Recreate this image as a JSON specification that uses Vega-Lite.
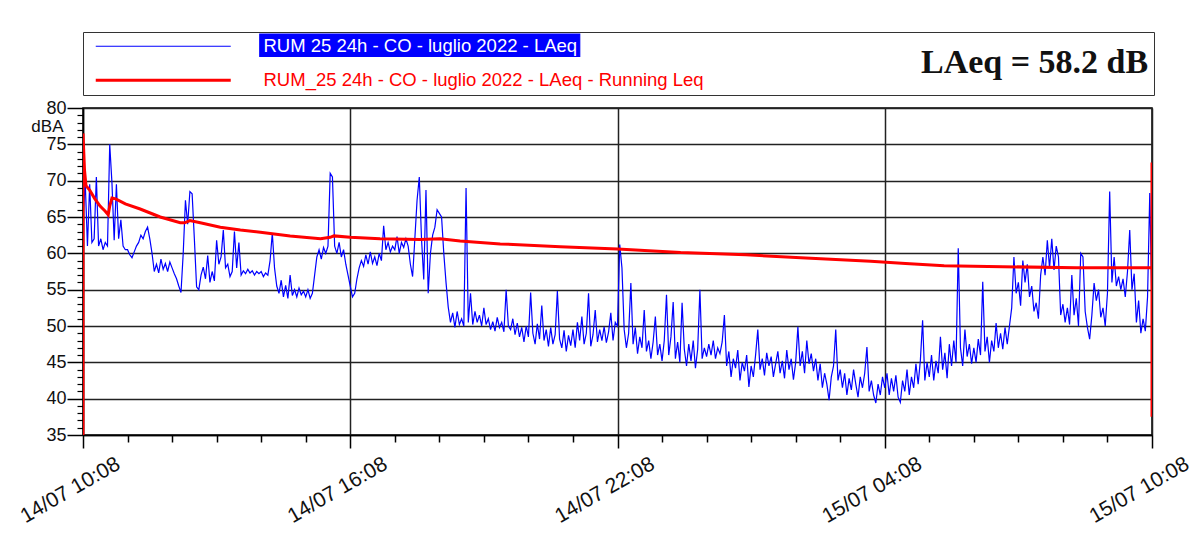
{
"$schema": "https://vega.github.io/schema/vega-lite/v6.json",
"width": 1069, "height": 327,
"autosize": {"type": "none"},
"padding": {"left": 83, "top": 108, "right": 44, "bottom": 119},
"background": "white",
"config": {"view": {"stroke": "#000", "strokeWidth": 1.5}},
"datasets": {
"laeq": [
{"t":"2022-07-14T10:08","v":65},{"t":"2022-07-14T10:11","v":69.8},{"t":"2022-07-14T10:14","v":61},{"t":"2022-07-14T10:17","v":69.5},{"t":"2022-07-14T10:20","v":61.5},{"t":"2022-07-14T10:23","v":62},{"t":"2022-07-14T10:26","v":70.5},{"t":"2022-07-14T10:29","v":61},{"t":"2022-07-14T10:32","v":62},{"t":"2022-07-14T10:35","v":60.5},{"t":"2022-07-14T10:38","v":61.5},{"t":"2022-07-14T10:41","v":61},{"t":"2022-07-14T10:44","v":75},{"t":"2022-07-14T10:47","v":69.7},{"t":"2022-07-14T10:50","v":61.8},{"t":"2022-07-14T10:53","v":69.5},{"t":"2022-07-14T10:56","v":62},{"t":"2022-07-14T10:59","v":64.6},{"t":"2022-07-14T11:02","v":61},{"t":"2022-07-14T11:05","v":60.5},
{"t":"2022-07-14T11:08","v":60.5},{"t":"2022-07-14T11:11","v":59.8},{"t":"2022-07-14T11:14","v":59.4},{"t":"2022-07-14T11:17","v":60.2},{"t":"2022-07-14T11:20","v":61},{"t":"2022-07-14T11:23","v":61.5},{"t":"2022-07-14T11:26","v":62.5},{"t":"2022-07-14T11:29","v":62},{"t":"2022-07-14T11:32","v":63},{"t":"2022-07-14T11:35","v":63.6},{"t":"2022-07-14T11:38","v":62},{"t":"2022-07-14T11:41","v":60},{"t":"2022-07-14T11:44","v":57.5},{"t":"2022-07-14T11:47","v":58.5},{"t":"2022-07-14T11:50","v":57.3},{"t":"2022-07-14T11:53","v":59.2},{"t":"2022-07-14T11:56","v":57.8},{"t":"2022-07-14T11:59","v":58.6},{"t":"2022-07-14T12:02","v":57.5},{"t":"2022-07-14T12:05","v":58.8},
{"t":"2022-07-14T12:08","v":58},{"t":"2022-07-14T12:11","v":57.2},{"t":"2022-07-14T12:14","v":56.5},{"t":"2022-07-14T12:17","v":55.5},{"t":"2022-07-14T12:20","v":54.6},{"t":"2022-07-14T12:23","v":60},{"t":"2022-07-14T12:26","v":67.3},{"t":"2022-07-14T12:29","v":64},{"t":"2022-07-14T12:32","v":68.5},{"t":"2022-07-14T12:35","v":68.2},{"t":"2022-07-14T12:38","v":62},{"t":"2022-07-14T12:41","v":55.4},{"t":"2022-07-14T12:44","v":55},{"t":"2022-07-14T12:47","v":57},{"t":"2022-07-14T12:50","v":58.1},{"t":"2022-07-14T12:53","v":56.5},{"t":"2022-07-14T12:56","v":59.7},{"t":"2022-07-14T12:59","v":56},{"t":"2022-07-14T13:02","v":57.5},{"t":"2022-07-14T13:05","v":56.2},
{"t":"2022-07-14T13:08","v":61.8},{"t":"2022-07-14T13:11","v":58.5},{"t":"2022-07-14T13:14","v":59.5},{"t":"2022-07-14T13:17","v":63.2},{"t":"2022-07-14T13:20","v":58},{"t":"2022-07-14T13:23","v":58.5},{"t":"2022-07-14T13:26","v":56.8},{"t":"2022-07-14T13:29","v":57.5},{"t":"2022-07-14T13:32","v":63},{"t":"2022-07-14T13:35","v":58},{"t":"2022-07-14T13:38","v":61.5},{"t":"2022-07-14T13:41","v":57},{"t":"2022-07-14T13:44","v":57.6},{"t":"2022-07-14T13:47","v":57.2},{"t":"2022-07-14T13:50","v":57.8},{"t":"2022-07-14T13:53","v":57.3},{"t":"2022-07-14T13:56","v":57.6},{"t":"2022-07-14T13:59","v":57},{"t":"2022-07-14T14:02","v":57.5},{"t":"2022-07-14T14:05","v":57.2},
{"t":"2022-07-14T14:08","v":57.5},{"t":"2022-07-14T14:11","v":56.8},{"t":"2022-07-14T14:14","v":57.3},{"t":"2022-07-14T14:17","v":57},{"t":"2022-07-14T14:20","v":59},{"t":"2022-07-14T14:23","v":62.8},{"t":"2022-07-14T14:26","v":58},{"t":"2022-07-14T14:29","v":55.5},{"t":"2022-07-14T14:32","v":54.5},{"t":"2022-07-14T14:35","v":56.3},{"t":"2022-07-14T14:38","v":54},{"t":"2022-07-14T14:41","v":55.6},{"t":"2022-07-14T14:44","v":53.8},{"t":"2022-07-14T14:47","v":57},{"t":"2022-07-14T14:50","v":54.2},{"t":"2022-07-14T14:53","v":55},{"t":"2022-07-14T14:56","v":54},{"t":"2022-07-14T14:59","v":55.2},{"t":"2022-07-14T15:02","v":54.3},{"t":"2022-07-14T15:05","v":54.8},
{"t":"2022-07-14T15:08","v":54},{"t":"2022-07-14T15:11","v":55},{"t":"2022-07-14T15:14","v":53.8},{"t":"2022-07-14T15:17","v":54.5},{"t":"2022-07-14T15:20","v":57},{"t":"2022-07-14T15:23","v":59.5},{"t":"2022-07-14T15:26","v":60.5},{"t":"2022-07-14T15:29","v":59.2},{"t":"2022-07-14T15:32","v":60.8},{"t":"2022-07-14T15:35","v":60},{"t":"2022-07-14T15:38","v":61},{"t":"2022-07-14T15:41","v":71},{"t":"2022-07-14T15:44","v":70.5},{"t":"2022-07-14T15:47","v":61},{"t":"2022-07-14T15:50","v":60},{"t":"2022-07-14T15:53","v":61.5},{"t":"2022-07-14T15:56","v":59.5},{"t":"2022-07-14T15:59","v":60.5},{"t":"2022-07-14T16:02","v":58.5},{"t":"2022-07-14T16:05","v":57},
{"t":"2022-07-14T16:08","v":55.5},{"t":"2022-07-14T16:11","v":54},{"t":"2022-07-14T16:14","v":54.5},{"t":"2022-07-14T16:17","v":56.5},{"t":"2022-07-14T16:20","v":58},{"t":"2022-07-14T16:23","v":59},{"t":"2022-07-14T16:26","v":58.2},{"t":"2022-07-14T16:29","v":59.8},{"t":"2022-07-14T16:32","v":58.5},{"t":"2022-07-14T16:35","v":60.2},{"t":"2022-07-14T16:38","v":58.6},{"t":"2022-07-14T16:41","v":59.5},{"t":"2022-07-14T16:44","v":58.3},{"t":"2022-07-14T16:47","v":60},{"t":"2022-07-14T16:50","v":59},{"t":"2022-07-14T16:53","v":63.8},{"t":"2022-07-14T16:56","v":60.5},{"t":"2022-07-14T16:59","v":61.5},{"t":"2022-07-14T17:02","v":60.2},{"t":"2022-07-14T17:05","v":61},
{"t":"2022-07-14T17:08","v":60.5},{"t":"2022-07-14T17:11","v":62.3},{"t":"2022-07-14T17:14","v":60},{"t":"2022-07-14T17:17","v":61.5},{"t":"2022-07-14T17:20","v":60.8},{"t":"2022-07-14T17:23","v":62},{"t":"2022-07-14T17:26","v":61},{"t":"2022-07-14T17:29","v":58.5},{"t":"2022-07-14T17:32","v":56.8},{"t":"2022-07-14T17:35","v":62},{"t":"2022-07-14T17:38","v":67.3},{"t":"2022-07-14T17:41","v":70.5},{"t":"2022-07-14T17:44","v":62},{"t":"2022-07-14T17:47","v":56.4},{"t":"2022-07-14T17:50","v":68.7},{"t":"2022-07-14T17:53","v":54.5},{"t":"2022-07-14T17:56","v":60},{"t":"2022-07-14T17:59","v":62.5},{"t":"2022-07-14T18:02","v":63.6},{"t":"2022-07-14T18:05","v":66},
{"t":"2022-07-14T18:08","v":65.5},{"t":"2022-07-14T18:11","v":65},{"t":"2022-07-14T18:14","v":60},{"t":"2022-07-14T18:17","v":56},{"t":"2022-07-14T18:20","v":52.6},{"t":"2022-07-14T18:23","v":50.5},{"t":"2022-07-14T18:26","v":51.8},{"t":"2022-07-14T18:29","v":49.8},{"t":"2022-07-14T18:32","v":52},{"t":"2022-07-14T18:35","v":50.2},{"t":"2022-07-14T18:38","v":51},{"t":"2022-07-14T18:41","v":50},{"t":"2022-07-14T18:44","v":69},{"t":"2022-07-14T18:47","v":50.5},{"t":"2022-07-14T18:50","v":54.5},{"t":"2022-07-14T18:53","v":50.2},{"t":"2022-07-14T18:56","v":52},{"t":"2022-07-14T18:59","v":50.5},{"t":"2022-07-14T19:02","v":51.5},{"t":"2022-07-14T19:05","v":50},
{"t":"2022-07-14T19:08","v":52.5},{"t":"2022-07-14T19:11","v":50.2},{"t":"2022-07-14T19:14","v":51},{"t":"2022-07-14T19:17","v":49.5},{"t":"2022-07-14T19:20","v":50.6},{"t":"2022-07-14T19:23","v":49.3},{"t":"2022-07-14T19:26","v":51.2},{"t":"2022-07-14T19:29","v":49.8},{"t":"2022-07-14T19:32","v":50.5},{"t":"2022-07-14T19:35","v":49.2},{"t":"2022-07-14T19:38","v":55},{"t":"2022-07-14T19:41","v":50},{"t":"2022-07-14T19:44","v":49.5},{"t":"2022-07-14T19:47","v":51},{"t":"2022-07-14T19:50","v":48.8},{"t":"2022-07-14T19:53","v":50.4},{"t":"2022-07-14T19:56","v":48.5},{"t":"2022-07-14T19:59","v":49.8},{"t":"2022-07-14T20:02","v":47.8},{"t":"2022-07-14T20:05","v":50},
{"t":"2022-07-14T20:08","v":48.5},{"t":"2022-07-14T20:11","v":54.6},{"t":"2022-07-14T20:14","v":49},{"t":"2022-07-14T20:17","v":47.5},{"t":"2022-07-14T20:20","v":50.3},{"t":"2022-07-14T20:23","v":48.2},{"t":"2022-07-14T20:26","v":52.8},{"t":"2022-07-14T20:29","v":48},{"t":"2022-07-14T20:32","v":49.5},{"t":"2022-07-14T20:35","v":47.2},{"t":"2022-07-14T20:38","v":49.8},{"t":"2022-07-14T20:41","v":47.5},{"t":"2022-07-14T20:44","v":48.8},{"t":"2022-07-14T20:47","v":54.8},{"t":"2022-07-14T20:50","v":48.2},{"t":"2022-07-14T20:53","v":47},{"t":"2022-07-14T20:56","v":49.4},{"t":"2022-07-14T20:59","v":46.5},{"t":"2022-07-14T21:02","v":48.7},{"t":"2022-07-14T21:05","v":47.3},
{"t":"2022-07-14T21:08","v":49.5},{"t":"2022-07-14T21:11","v":47},{"t":"2022-07-14T21:14","v":50.5},{"t":"2022-07-14T21:17","v":48},{"t":"2022-07-14T21:20","v":51.3},{"t":"2022-07-14T21:23","v":47.5},{"t":"2022-07-14T21:26","v":49},{"t":"2022-07-14T21:29","v":54.5},{"t":"2022-07-14T21:32","v":47.2},{"t":"2022-07-14T21:35","v":48.8},{"t":"2022-07-14T21:38","v":52.2},{"t":"2022-07-14T21:41","v":47.8},{"t":"2022-07-14T21:44","v":49.5},{"t":"2022-07-14T21:47","v":48},{"t":"2022-07-14T21:50","v":49.9},{"t":"2022-07-14T21:53","v":47.7},{"t":"2022-07-14T21:56","v":49.2},{"t":"2022-07-14T21:59","v":51.8},{"t":"2022-07-14T22:02","v":48},{"t":"2022-07-14T22:05","v":50.5},
{"t":"2022-07-14T22:08","v":50},{"t":"2022-07-14T22:11","v":61.2},{"t":"2022-07-14T22:14","v":58},{"t":"2022-07-14T22:17","v":49.5},{"t":"2022-07-14T22:20","v":47},{"t":"2022-07-14T22:23","v":49},{"t":"2022-07-14T22:26","v":55.9},{"t":"2022-07-14T22:29","v":47.5},{"t":"2022-07-14T22:32","v":49.8},{"t":"2022-07-14T22:35","v":46.2},{"t":"2022-07-14T22:38","v":48.5},{"t":"2022-07-14T22:41","v":47},{"t":"2022-07-14T22:44","v":52.2},{"t":"2022-07-14T22:47","v":46.5},{"t":"2022-07-14T22:50","v":48},{"t":"2022-07-14T22:53","v":45.5},{"t":"2022-07-14T22:56","v":47.8},{"t":"2022-07-14T22:59","v":51.3},{"t":"2022-07-14T23:02","v":46},{"t":"2022-07-14T23:05","v":47.5},
{"t":"2022-07-14T23:08","v":45.2},{"t":"2022-07-14T23:11","v":48},{"t":"2022-07-14T23:14","v":54.3},{"t":"2022-07-14T23:17","v":46},{"t":"2022-07-14T23:20","v":48.5},{"t":"2022-07-14T23:23","v":53.3},{"t":"2022-07-14T23:26","v":45.5},{"t":"2022-07-14T23:29","v":47.8},{"t":"2022-07-14T23:32","v":45},{"t":"2022-07-14T23:35","v":53.2},{"t":"2022-07-14T23:38","v":46.8},{"t":"2022-07-14T23:41","v":44.5},{"t":"2022-07-14T23:44","v":47.5},{"t":"2022-07-14T23:47","v":45.2},{"t":"2022-07-14T23:50","v":48},{"t":"2022-07-14T23:53","v":44.2},{"t":"2022-07-14T23:56","v":46.8},{"t":"2022-07-14T23:59","v":55},{"t":"2022-07-15T00:02","v":45.5},{"t":"2022-07-15T00:05","v":47},
{"t":"2022-07-15T00:08","v":45.8},{"t":"2022-07-15T00:11","v":47.5},{"t":"2022-07-15T00:14","v":46},{"t":"2022-07-15T00:17","v":48},{"t":"2022-07-15T00:20","v":45.5},{"t":"2022-07-15T00:23","v":47},{"t":"2022-07-15T00:26","v":46.2},{"t":"2022-07-15T00:29","v":47.8},{"t":"2022-07-15T00:32","v":51.5},{"t":"2022-07-15T00:35","v":44.5},{"t":"2022-07-15T00:38","v":46.5},{"t":"2022-07-15T00:41","v":43},{"t":"2022-07-15T00:44","v":45.5},{"t":"2022-07-15T00:47","v":44.2},{"t":"2022-07-15T00:50","v":46.7},{"t":"2022-07-15T00:53","v":42.5},{"t":"2022-07-15T00:56","v":45},{"t":"2022-07-15T00:59","v":43.8},{"t":"2022-07-15T01:02","v":46},{"t":"2022-07-15T01:05","v":41.6},
{"t":"2022-07-15T01:08","v":44.5},{"t":"2022-07-15T01:11","v":43},{"t":"2022-07-15T01:14","v":46},{"t":"2022-07-15T01:17","v":49.5},{"t":"2022-07-15T01:20","v":44},{"t":"2022-07-15T01:23","v":45.5},{"t":"2022-07-15T01:26","v":43.2},{"t":"2022-07-15T01:29","v":46.3},{"t":"2022-07-15T01:32","v":44.5},{"t":"2022-07-15T01:35","v":45.8},{"t":"2022-07-15T01:38","v":43},{"t":"2022-07-15T01:41","v":44.8},{"t":"2022-07-15T01:44","v":46.5},{"t":"2022-07-15T01:47","v":43.5},{"t":"2022-07-15T01:50","v":45.2},{"t":"2022-07-15T01:53","v":42.8},{"t":"2022-07-15T01:56","v":46.7},{"t":"2022-07-15T01:59","v":44},{"t":"2022-07-15T02:02","v":45.5},{"t":"2022-07-15T02:05","v":42.6},
{"t":"2022-07-15T02:08","v":45},{"t":"2022-07-15T02:11","v":49.9},{"t":"2022-07-15T02:14","v":44.5},{"t":"2022-07-15T02:17","v":46.5},{"t":"2022-07-15T02:20","v":43.5},{"t":"2022-07-15T02:23","v":48},{"t":"2022-07-15T02:26","v":44.8},{"t":"2022-07-15T02:29","v":46.2},{"t":"2022-07-15T02:32","v":43.8},{"t":"2022-07-15T02:35","v":45.5},{"t":"2022-07-15T02:38","v":42.5},{"t":"2022-07-15T02:41","v":44.8},{"t":"2022-07-15T02:44","v":41.5},{"t":"2022-07-15T02:47","v":43.5},{"t":"2022-07-15T02:50","v":42},{"t":"2022-07-15T02:53","v":39.8},{"t":"2022-07-15T02:56","v":43},{"t":"2022-07-15T02:59","v":44.5},{"t":"2022-07-15T03:02","v":49.5},{"t":"2022-07-15T03:05","v":42.5},
{"t":"2022-07-15T03:08","v":44},{"t":"2022-07-15T03:11","v":41.5},{"t":"2022-07-15T03:14","v":43.5},{"t":"2022-07-15T03:17","v":40.5},{"t":"2022-07-15T03:20","v":42.8},{"t":"2022-07-15T03:23","v":41.2},{"t":"2022-07-15T03:26","v":44},{"t":"2022-07-15T03:29","v":42},{"t":"2022-07-15T03:32","v":40.2},{"t":"2022-07-15T03:35","v":43},{"t":"2022-07-15T03:38","v":41.5},{"t":"2022-07-15T03:41","v":43.5},{"t":"2022-07-15T03:44","v":47.1},{"t":"2022-07-15T03:47","v":41},{"t":"2022-07-15T03:50","v":42.5},{"t":"2022-07-15T03:53","v":40.5},{"t":"2022-07-15T03:56","v":39.4},{"t":"2022-07-15T03:59","v":42},{"t":"2022-07-15T04:02","v":40.5},{"t":"2022-07-15T04:05","v":43},
{"t":"2022-07-15T04:08","v":41.5},{"t":"2022-07-15T04:11","v":43.5},{"t":"2022-07-15T04:14","v":40.5},{"t":"2022-07-15T04:17","v":42.8},{"t":"2022-07-15T04:20","v":41},{"t":"2022-07-15T04:23","v":43.2},{"t":"2022-07-15T04:26","v":40.2},{"t":"2022-07-15T04:29","v":39.5},{"t":"2022-07-15T04:32","v":42.5},{"t":"2022-07-15T04:35","v":41},{"t":"2022-07-15T04:38","v":44},{"t":"2022-07-15T04:41","v":40.5},{"t":"2022-07-15T04:44","v":43},{"t":"2022-07-15T04:47","v":41.5},{"t":"2022-07-15T04:50","v":44.8},{"t":"2022-07-15T04:53","v":42},{"t":"2022-07-15T04:56","v":45.3},{"t":"2022-07-15T04:59","v":50.8},{"t":"2022-07-15T05:02","v":42.5},{"t":"2022-07-15T05:05","v":45},
{"t":"2022-07-15T05:08","v":43},{"t":"2022-07-15T05:11","v":46},{"t":"2022-07-15T05:14","v":42.5},{"t":"2022-07-15T05:17","v":45.2},{"t":"2022-07-15T05:20","v":43.5},{"t":"2022-07-15T05:23","v":48.5},{"t":"2022-07-15T05:26","v":44},{"t":"2022-07-15T05:29","v":46.3},{"t":"2022-07-15T05:32","v":42.8},{"t":"2022-07-15T05:35","v":47.5},{"t":"2022-07-15T05:38","v":44.5},{"t":"2022-07-15T05:41","v":48},{"t":"2022-07-15T05:44","v":45},{"t":"2022-07-15T05:47","v":60.7},{"t":"2022-07-15T05:50","v":47},{"t":"2022-07-15T05:53","v":44.5},{"t":"2022-07-15T05:56","v":49.5},{"t":"2022-07-15T05:59","v":45.8},{"t":"2022-07-15T06:02","v":47.5},{"t":"2022-07-15T06:05","v":44.8},
{"t":"2022-07-15T06:08","v":47},{"t":"2022-07-15T06:11","v":45},{"t":"2022-07-15T06:14","v":48.2},{"t":"2022-07-15T06:17","v":46},{"t":"2022-07-15T06:20","v":56.1},{"t":"2022-07-15T06:23","v":46.5},{"t":"2022-07-15T06:26","v":48.5},{"t":"2022-07-15T06:29","v":45},{"t":"2022-07-15T06:32","v":48},{"t":"2022-07-15T06:35","v":46.5},{"t":"2022-07-15T06:38","v":50.4},{"t":"2022-07-15T06:41","v":47},{"t":"2022-07-15T06:44","v":49},{"t":"2022-07-15T06:47","v":46.8},{"t":"2022-07-15T06:50","v":49.8},{"t":"2022-07-15T06:53","v":47.5},{"t":"2022-07-15T06:56","v":50},{"t":"2022-07-15T06:59","v":52.5},{"t":"2022-07-15T07:02","v":59.5},{"t":"2022-07-15T07:05","v":54.5},
{"t":"2022-07-15T07:08","v":56},{"t":"2022-07-15T07:11","v":52.8},{"t":"2022-07-15T07:14","v":59},{"t":"2022-07-15T07:17","v":56},{"t":"2022-07-15T07:20","v":58.5},{"t":"2022-07-15T07:23","v":54},{"t":"2022-07-15T07:26","v":55.5},{"t":"2022-07-15T07:29","v":52},{"t":"2022-07-15T07:32","v":53.2},{"t":"2022-07-15T07:35","v":51},{"t":"2022-07-15T07:38","v":57},{"t":"2022-07-15T07:41","v":59.5},{"t":"2022-07-15T07:44","v":57},{"t":"2022-07-15T07:47","v":61.8},{"t":"2022-07-15T07:50","v":58},{"t":"2022-07-15T07:53","v":62},{"t":"2022-07-15T07:56","v":57.7},{"t":"2022-07-15T07:59","v":61},{"t":"2022-07-15T08:02","v":59.5},{"t":"2022-07-15T08:05","v":51.5},
{"t":"2022-07-15T08:08","v":53},{"t":"2022-07-15T08:11","v":50.5},{"t":"2022-07-15T08:14","v":52.5},{"t":"2022-07-15T08:17","v":50.2},{"t":"2022-07-15T08:20","v":57},{"t":"2022-07-15T08:23","v":51.5},{"t":"2022-07-15T08:26","v":53.8},{"t":"2022-07-15T08:29","v":50},{"t":"2022-07-15T08:32","v":60},{"t":"2022-07-15T08:35","v":59.5},{"t":"2022-07-15T08:38","v":52},{"t":"2022-07-15T08:41","v":49.8},{"t":"2022-07-15T08:44","v":48.2},{"t":"2022-07-15T08:47","v":51.5},{"t":"2022-07-15T08:50","v":55.9},{"t":"2022-07-15T08:53","v":53.5},{"t":"2022-07-15T08:56","v":55},{"t":"2022-07-15T08:59","v":51.2},{"t":"2022-07-15T09:02","v":52.5},{"t":"2022-07-15T09:05","v":50},
{"t":"2022-07-15T09:08","v":54.5},{"t":"2022-07-15T09:11","v":68.5},{"t":"2022-07-15T09:14","v":56},{"t":"2022-07-15T09:17","v":59.5},{"t":"2022-07-15T09:20","v":55.5},{"t":"2022-07-15T09:23","v":56.8},{"t":"2022-07-15T09:26","v":55},{"t":"2022-07-15T09:29","v":56.5},{"t":"2022-07-15T09:32","v":54},{"t":"2022-07-15T09:35","v":57.5},{"t":"2022-07-15T09:38","v":63.2},{"t":"2022-07-15T09:41","v":55},{"t":"2022-07-15T09:44","v":57.2},{"t":"2022-07-15T09:47","v":50.5},{"t":"2022-07-15T09:50","v":53.5},{"t":"2022-07-15T09:53","v":49},{"t":"2022-07-15T09:56","v":51},{"t":"2022-07-15T09:59","v":49.3},{"t":"2022-07-15T10:02","v":54},{"t":"2022-07-15T10:05","v":68.3},
{"t":"2022-07-15T10:08","v":52}
],
"running": [
{"t":"2022-07-14T10:08","v":35},{"t":"2022-07-14T10:08","v":76.5},{"t":"2022-07-14T10:10","v":71.5},{"t":"2022-07-14T10:12","v":69.3},{"t":"2022-07-14T10:17","v":68.7},{"t":"2022-07-14T10:24","v":67.5},{"t":"2022-07-14T10:31","v":66.5},{"t":"2022-07-14T10:38","v":65.8},{"t":"2022-07-14T10:42","v":65.3},{"t":"2022-07-14T10:44","v":66.5},{"t":"2022-07-14T10:47","v":67.6},{"t":"2022-07-14T10:52","v":67.5},{"t":"2022-07-14T11:05","v":66.8},{"t":"2022-07-14T11:25","v":66.1},{"t":"2022-07-14T11:52","v":65},{"t":"2022-07-14T12:19","v":64.2},{"t":"2022-07-14T12:25","v":64.2},{"t":"2022-07-14T12:32","v":64.5},{"t":"2022-07-14T12:46","v":64.2},{"t":"2022-07-14T13:13","v":63.6},{"t":"2022-07-14T13:40","v":63.2},{"t":"2022-07-14T14:07","v":62.9},{"t":"2022-07-14T14:47","v":62.4},{"t":"2022-07-14T15:28","v":62},{"t":"2022-07-14T15:41","v":62.2},{"t":"2022-07-14T15:46","v":62.4},{"t":"2022-07-14T16:08","v":62.2},{"t":"2022-07-14T16:48","v":62},{"t":"2022-07-14T17:42","v":61.9},{"t":"2022-07-14T18:09","v":62},{"t":"2022-07-14T18:36","v":61.7},{"t":"2022-07-14T19:30","v":61.3},{"t":"2022-07-14T20:51","v":60.9},{"t":"2022-07-14T22:08","v":60.6},{"t":"2022-07-14T23:33","v":60.1},{"t":"2022-07-15T01:01","v":59.8},{"t":"2022-07-15T02:15","v":59.4},{"t":"2022-07-15T03:49","v":58.9},{"t":"2022-07-15T04:36","v":58.6},{"t":"2022-07-15T05:28","v":58.3},{"t":"2022-07-15T06:27","v":58.2},{"t":"2022-07-15T08:26","v":58},{"t":"2022-07-15T10:08","v":58},{"t":"2022-07-15T10:08","v":72.5},{"t":"2022-07-15T10:08","v":37.5}
]
},
"layer": [
{
"data": {"name": "laeq"},
"mark": {"type": "line", "strokeWidth": 1.2, "clip": true},
"encoding": {
"x": {"field": "t", "type": "temporal",
"scale": {"domain": [{"year": 2022, "month": 7, "date": 14, "hours": 10, "minutes": 8}, {"year": 2022, "month": 7, "date": 15, "hours": 10, "minutes": 8}], "nice": false},
"axis": {"orient": "bottom", "title": null, "format": "%d/%m %H:%M",
"values": [{"year": 2022, "month": 7, "date": 14, "hours": 10, "minutes": 8}, {"year": 2022, "month": 7, "date": 14, "hours": 16, "minutes": 8}, {"year": 2022, "month": 7, "date": 14, "hours": 22, "minutes": 8}, {"year": 2022, "month": 7, "date": 15, "hours": 4, "minutes": 8}, {"year": 2022, "month": 7, "date": 15, "hours": 10, "minutes": 8}],
"grid": true, "gridColor": "#222", "gridWidth": 1.5,
"domain": true, "domainColor": "#000", "domainWidth": 1.5,
"ticks": true, "tickSize": 13, "tickColor": "#000", "tickWidth": 1.5,
"labelAngle": -30, "labelAlign": "center", "labelBaseline": "middle", "labelPadding": 42, "labelOffset": -13,
"labelFont": "Liberation Sans, Arial, sans-serif", "labelFontSize": 21, "labelColor": "#111",
"labelOverlap": false, "labelBound": false, "labelFlush": false}},
"y": {"field": "v", "type": "quantitative",
"scale": {"domain": [35, 80], "nice": false, "zero": false},
"axis": {"orient": "left", "values": [35, 40, 45, 50, 55, 60, 65, 70, 75, 80],
"grid": true, "gridColor": "#222", "gridWidth": 1.5,
"domain": true, "domainColor": "#000", "domainWidth": 1.5,
"ticks": true, "tickSize": 16, "tickColor": "#000", "tickWidth": 1.5,
"labelPadding": 1, "labelFont": "Liberation Sans, Arial, sans-serif", "labelFontSize": 18, "labelColor": "#111", "labelBaseline": "middle",
"title": "dBA", "titleAngle": 0, "titleX": -20, "titleY": 18, "titleAlign": "right", "titleBaseline": "middle",
"titleFont": "Liberation Sans, Arial, sans-serif", "titleFontSize": 17, "titleFontWeight": "normal", "titleColor": "#111"}},
"color": {"datum": "RUM 25 24h - CO - luglio 2022 - LAeq",
"scale": {"domain": ["RUM 25 24h - CO - luglio 2022 - LAeq", "RUM_25 24h - CO - luglio 2022 - LAeq - Running Leq"], "range": ["#0000ff", "#ff0000"]},
"legend": {"orient": "none", "legendX": 0, "legendY": -76, "direction": "vertical",
"title": "LAeq = 58.2 dB", "titleOrient": "right", "titleAnchor": "middle", "titleBaseline": "middle", "titleAlign": "left", "titlePadding": 217, "titleLimit": 0,
"titleFont": "Liberation Serif, Times New Roman, serif", "titleFontSize": 34, "titleFontWeight": "bold", "titleColor": "#111",
"strokeColor": "#333", "fillColor": "white", "padding": 5,
"symbolType": "stroke", "symbolSize": 18225, "symbolOffset": 66, "symbolStrokeWidth": 2,
"labelOffset": 91, "rowPadding": 12, "labelLimit": 0,
"labelFont": "Liberation Sans, Arial, sans-serif", "labelFontSize": 18.5,
"encode": {
"symbols": {"update": {
"shape": {"signal": "datum.index === 0 ? 'M-1,0H1M1.43,-0.18H6.17V0.15H1.43Z' : 'stroke'"},
"fill": {"signal": "datum.index === 0 ? '#0000ff' : 'transparent'"},
"strokeWidth": {"signal": "datum.index === 0 ? 1.2 : 3"}}},
"labels": {"update": {"fill": {"signal": "datum.index === 0 ? '#ffffff' : '#ff0000'"}}}
}}}
}
},
{
"data": {"name": "running"},
"mark": {"type": "line", "strokeWidth": 3, "clip": true},
"encoding": {
"x": {"field": "t", "type": "temporal", "axis": null},
"y": {"field": "v", "type": "quantitative", "axis": null},
"color": {"datum": "RUM_25 24h - CO - luglio 2022 - LAeq - Running Leq"},
"order": {"value": null}
}
},
{
"data": {"name": "running"},
"mark": {"type": "point", "opacity": 0},
"encoding": {
"x": {"field": "t", "type": "temporal",
"axis": {"orient": "bottom", "title": null, "labels": false, "grid": false, "domain": false, "tickSize": 7, "tickColor": "#000", "tickWidth": 1.5,
"values": [{"year": 2022, "month": 7, "date": 14, "hours": 11, "minutes": 8}, {"year": 2022, "month": 7, "date": 14, "hours": 12, "minutes": 8}, {"year": 2022, "month": 7, "date": 14, "hours": 13, "minutes": 8}, {"year": 2022, "month": 7, "date": 14, "hours": 14, "minutes": 8}, {"year": 2022, "month": 7, "date": 14, "hours": 15, "minutes": 8}, {"year": 2022, "month": 7, "date": 14, "hours": 17, "minutes": 8}, {"year": 2022, "month": 7, "date": 14, "hours": 18, "minutes": 8}, {"year": 2022, "month": 7, "date": 14, "hours": 19, "minutes": 8}, {"year": 2022, "month": 7, "date": 14, "hours": 20, "minutes": 8}, {"year": 2022, "month": 7, "date": 14, "hours": 21, "minutes": 8}, {"year": 2022, "month": 7, "date": 14, "hours": 23, "minutes": 8}, {"year": 2022, "month": 7, "date": 15, "hours": 0, "minutes": 8}, {"year": 2022, "month": 7, "date": 15, "hours": 1, "minutes": 8}, {"year": 2022, "month": 7, "date": 15, "hours": 2, "minutes": 8}, {"year": 2022, "month": 7, "date": 15, "hours": 3, "minutes": 8}, {"year": 2022, "month": 7, "date": 15, "hours": 5, "minutes": 8}, {"year": 2022, "month": 7, "date": 15, "hours": 6, "minutes": 8}, {"year": 2022, "month": 7, "date": 15, "hours": 7, "minutes": 8}, {"year": 2022, "month": 7, "date": 15, "hours": 8, "minutes": 8}, {"year": 2022, "month": 7, "date": 15, "hours": 9, "minutes": 8}]}},
"y": {"field": "v", "type": "quantitative",
"axis": {"orient": "left", "title": null, "labels": false, "grid": false, "domain": false, "tickSize": 6, "tickColor": "#000", "tickWidth": 1.2,
"values": [36,37,38,39,41,42,43,44,46,47,48,49,51,52,53,54,56,57,58,59,61,62,63,64,66,67,68,69,71,72,73,74,76,77,78,79]}}
}
}
],
"resolve": {"axis": {"x": "independent", "y": "independent"}}
}
